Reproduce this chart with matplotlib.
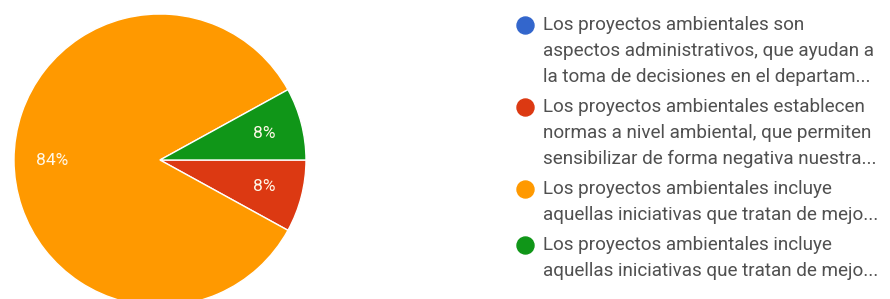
import matplotlib
matplotlib.use("Agg")
import matplotlib.pyplot as plt

# data
categories = [
    "Los proyectos ambientales son\naspectos administrativos, que ayudan a\nla toma de decisiones en el departam...",
    "Los proyectos ambientales establecen\nnormas a nivel ambiental, que permiten\nsensibilizar de forma negativa nuestra...",
    "Los proyectos ambientales incluye\naquellas iniciativas que tratan de mejo...",
    "Los proyectos ambientales incluye\naquellas iniciativas que tratan de mejo...",
]
percentages = [0, 8, 84, 8]
colors = ["#3366cc", "#dc3912", "#ff9900", "#109618"]

W, H = 890, 299
fig = plt.figure(figsize=(W / 100, H / 100), dpi=100)

# pie axes, centre (160,160) px, radius ~146 px
cx, cy, r = 160, 160, 146
ax = fig.add_axes([(cx - r) / W, (H - cy - r) / H, 2 * r / W, 2 * r / H])

wedges, texts, autotexts = ax.pie(
    percentages, colors=colors, startangle=0, counterclock=False,
    radius=1, frame=False,
    autopct=lambda p: f"{p:.0f}%" if p > 0.5 else "",
    pctdistance=0.74,
    wedgeprops=dict(edgecolor="white", linewidth=1),
    textprops=dict(color="#fff8e8", fontsize=12.5, family="Roboto"),
)
ax.set_xlim(-1, 1)
ax.set_ylim(-1, 1)
ax.set_aspect("auto")
ax.axis("off")
for w in wedges:
    w.set_clip_on(False)

# legend drawn in pixel coordinates
lax = fig.add_axes([0, 0, 1, 1])
lax.set_xlim(0, W)
lax.set_ylim(H, 0)
lax.axis("off")

line_h = 26
gap = 30
y = 25
for label, col in zip(categories, colors):
    lines = label.split("\n")
    lax.scatter([525], [y], s=150, color=col, zorder=3)
    for i, ln in enumerate(lines):
        lax.text(543, y + i * line_h, ln, va="center", ha="left",
                 fontsize=13.6, color="#505050", family="Roboto")
    y += (len(lines) - 1) * line_h + gap

fig.savefig("out.png", dpi=100, facecolor="white")
